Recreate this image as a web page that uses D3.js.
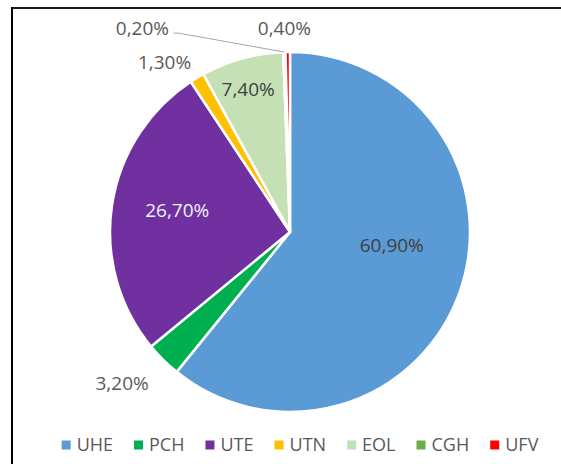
<!DOCTYPE html>
<html>
<head>
<meta charset="utf-8">
<script src="https://cdn.jsdelivr.net/npm/d3@7"></script>
<style>
  body { margin: 0; background: #fff; }
  text { font-family: "Open Sans", sans-serif; }
</style>
</head>
<body>
<div id="chart"></div>
<script>
const categories = ["UHE", "PCH", "UTE", "UTN", "EOL", "CGH", "UFV"];
const values = [60.9, 3.2, 26.7, 1.3, 7.4, 0.2, 0.4];
const labels = ["60,90%", "3,20%", "26,70%", "1,30%", "7,40%", "0,20%", "0,40%"];
const colors = ["#5B9BD5", "#00B050", "#7030A0", "#FFC000", "#C5E0B4", "#70AD47", "#FF0000"];

const width = 561;
const height = 464;
const cx = 290;
const cy = 232;
const radius = 180;

// label placement: inside or outside, plus a small nudge like Excel's best fit
const labelInside = [true, false, true, false, true, false, false];
const labelNudge = [[0, -23], [-20, 2], [-6, -6], [-17, 10], [-13, -39], [-141, 6], [-3, 6]];
const labelColor = ["#404040", "#595959", "#f2f2f2", "#595959", "#404040", "#595959", "#595959"];

const svg = d3.select("#chart")
    .append("svg")
    .attr("width", width)
    .attr("height", height);

// frame (top and left edges only visible)
svg.append("line")
    .attr("x1", 11).attr("y1", 8).attr("x2", width).attr("y2", 8)
    .attr("stroke", "#1a1a1a").attr("stroke-width", 2);
svg.append("line")
    .attr("x1", 12).attr("y1", 7).attr("x2", 12).attr("y2", height)
    .attr("stroke", "#000").attr("stroke-width", 2);

const pie = d3.pie().sort(null).value(d => d);
const arcs = pie(values);

const arc = d3.arc().innerRadius(0).outerRadius(radius);
const inArc = d3.arc().innerRadius(108).outerRadius(108);
const outArc = d3.arc().innerRadius(210).outerRadius(210);
const edgeArc = d3.arc().innerRadius(radius).outerRadius(radius);

const g = svg.append("g").attr("transform", `translate(${cx},${cy})`);

g.selectAll("path")
    .data(arcs)
    .enter()
    .append("path")
    .attr("d", arc)
    .attr("fill", (d, i) => colors[i])
    .attr("stroke", "#fff")
    .attr("stroke-width", 2.5)
    .attr("stroke-linejoin", "round");

const labelPos = arcs.map((d, i) => {
    const c = labelInside[i] ? inArc.centroid(d) : outArc.centroid(d);
    return [c[0] + labelNudge[i][0], c[1] + labelNudge[i][1]];
});

// leader line for the far-off CGH label
const cgh = 5;
const edge = edgeArc.centroid(arcs[cgh]);
const lp = labelPos[cgh];
g.append("polyline")
    .attr("points", `${lp[0] + 31},${lp[1] + 5} ${lp[0] + 36},${lp[1] + 5} ${edge[0]},${edge[1]}`)
    .attr("fill", "none")
    .attr("stroke", "#a6a6a6")
    .attr("stroke-width", 1);

g.selectAll("text.lbl")
    .data(arcs)
    .enter()
    .append("text")
    .attr("class", "lbl")
    .attr("x", (d, i) => labelPos[i][0])
    .attr("y", (d, i) => labelPos[i][1])
    .attr("dy", "0.35em")
    .attr("text-anchor", "middle")
    .attr("font-size", 19)
    .attr("fill", (d, i) => labelColor[i])
    .text((d, i) => labels[i]);

// legend
const legend = svg.append("g");
const fontSize = 18;
const gap = 21;
let x = 0;
categories.forEach((c, i) => {
    const item = legend.append("g");
    item.append("rect")
        .attr("x", 0).attr("y", -4.5)
        .attr("width", 9).attr("height", 9)
        .attr("fill", colors[i]);
    const t = item.append("text")
        .attr("x", 15)
        .attr("dy", "0.35em")
        .attr("font-size", fontSize)
        .attr("fill", "#595959")
        .text(c);
    const w = 15 + t.node().getComputedTextLength();
    item.attr("transform", `translate(${x},0)`);
    x += w + gap;
});
const totalW = x - gap;
legend.attr("transform", `translate(${300 - totalW / 2},445)`);
</script>
</body>
</html>
